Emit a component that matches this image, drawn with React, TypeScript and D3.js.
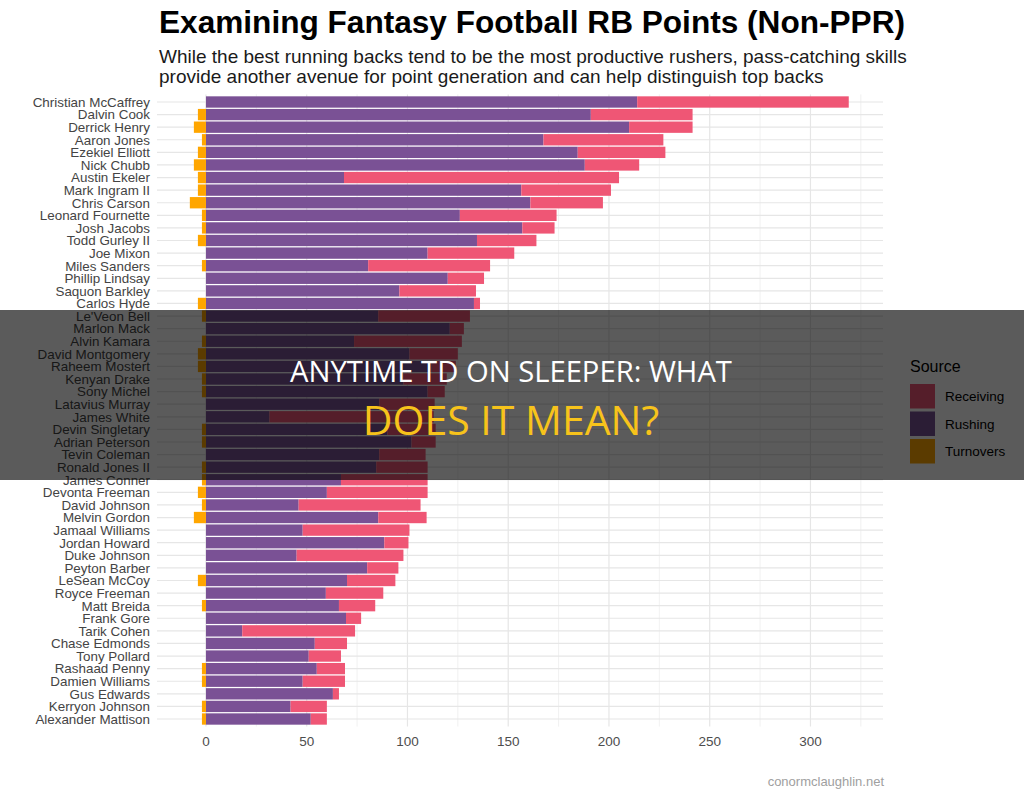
import React from "react";
import * as d3 from "d3";

// Running backs, ordered by net fantasy points (rushing + receiving + turnovers)
const players: string[] = [
  "Christian McCaffrey", "Dalvin Cook", "Derrick Henry", "Aaron Jones", "Ezekiel Elliott",
  "Nick Chubb", "Austin Ekeler", "Mark Ingram II", "Chris Carson", "Leonard Fournette",
  "Josh Jacobs", "Todd Gurley II", "Joe Mixon", "Miles Sanders", "Phillip Lindsay",
  "Saquon Barkley", "Carlos Hyde", "Le'Veon Bell", "Marlon Mack", "Alvin Kamara",
  "David Montgomery", "Raheem Mostert", "Kenyan Drake", "Sony Michel", "Latavius Murray",
  "James White", "Devin Singletary", "Adrian Peterson", "Tevin Coleman", "Ronald Jones II",
  "James Conner", "Devonta Freeman", "David Johnson", "Melvin Gordon", "Jamaal Williams",
  "Jordan Howard", "Duke Johnson", "Peyton Barber", "LeSean McCoy", "Royce Freeman",
  "Matt Breida", "Frank Gore", "Tarik Cohen", "Chase Edmonds", "Tony Pollard",
  "Rashaad Penny", "Damien Williams", "Gus Edwards", "Kerryon Johnson", "Alexander Mattison",
];

const rushing: number[] = [
  214, 191, 210, 167.5, 184.5, 188, 68.5, 156.5, 161, 126,
  157, 134.5, 110, 80.5, 120, 96, 133, 85.5, 121, 73.5,
  101, 112, 98, 110, 86, 31.5, 90, 102, 86, 84.5,
  67, 60, 46, 85.5, 48, 88.5, 45, 80, 70, 59.5,
  66, 69.5, 18, 54, 51, 55, 48, 63, 42, 52,
];

const receiving: number[] = [
  105, 50.5, 31.5, 59.5, 43.5, 27, 136.5, 44.5, 36, 48,
  16, 29.5, 43, 60.5, 18, 38, 3, 45.5, 7, 53.5,
  24, 12, 21.5, 8.5, 27.5, 81.5, 24, 12, 23, 25.5,
  43, 50, 60.5, 24, 53, 12, 53, 15.5, 24, 28.5,
  18, 7.5, 56, 16, 16, 14, 21, 3, 18, 8,
];

const turnovers: number[] = [
  0, -4, -6, -2, -4, -6, -4, -4, -8, -2,
  -2, -4, 0, -2, 0, 0, -4, -2, 0, -2,
  -4, -4, -2, -2, 0, 0, -2, -2, 0, -2,
  -2, -4, -2, -6, 0, 0, 0, 0, -4, 0,
  -2, 0, 0, 0, 0, -2, -2, 0, -2, -2,
];

const sources: string[] = ["Receiving", "Rushing", "Turnovers"];
const sourceColors: string[] = ["#ef5675", "#7a5195", "#ffa600"];
const xTicks: number[] = [0, 50, 100, 150, 200, 250, 300];
const xMinorTicks: number[] = [25, 75, 125, 175, 225, 275, 325];

const W = 1024;
const H = 796;
const FONT = "'Liberation Sans', Arial, Helvetica, sans-serif";

export default function App() {
  const x = d3.scaleLinear().domain([-24.3, 336]).range([157, 883]);
  const y = d3
    .scaleBand<string>()
    .domain(players)
    .range([95.7, 725.3])
    .paddingInner(0.1)
    .paddingOuter(0.05);
  const color = d3.scaleOrdinal<string, string>().domain(sources).range(sourceColors);

  const panelTop = 94.4;
  const panelBottom = 726.6;
  const bw = y.bandwidth();

  return (
    <div style={{ position: "absolute", left: 0, top: 0 }}>
      <svg width={W} height={H} style={{ display: "block", background: "#fff" }}>
        {/* Title block */}
        <text x={159} y={33} fontFamily={FONT} fontWeight="bold" fontSize={31.6} fill="#000">
          Examining Fantasy Football RB Points (Non-PPR)
        </text>
        <text x={159} y={63} fontFamily={FONT} fontSize={19} fill="#1a1a1a">
          While the best running backs tend to be the most productive rushers, pass-catching skills
        </text>
        <text x={159} y={83} fontFamily={FONT} fontSize={19} fill="#1a1a1a">
          provide another avenue for point generation and can help distinguish top backs
        </text>

        {/* Grid */}
        <g>
          {xMinorTicks.map((t) => (
            <line key={`mn${t}`} x1={x(t)} x2={x(t)} y1={panelTop} y2={panelBottom} stroke="#eeeeee" strokeWidth={0.8} />
          ))}
          {xTicks.map((t) => (
            <line key={`mj${t}`} x1={x(t)} x2={x(t)} y1={panelTop} y2={panelBottom} stroke="#e6e6e6" strokeWidth={1.2} />
          ))}
          {players.map((p) => (
            <line
              key={`h${p}`}
              x1={157}
              x2={883}
              y1={(y(p) as number) + bw / 2}
              y2={(y(p) as number) + bw / 2}
              stroke="#e6e6e6"
              strokeWidth={1.2}
            />
          ))}
        </g>

        {/* Stacked bars */}
        <g>
          {players.map((p, i) => {
            const top = y(p) as number;
            const rush = rushing[i];
            const rec = receiving[i];
            const to = turnovers[i];
            return (
              <g key={p}>
                <rect x={x(0)} y={top} width={x(rush) - x(0)} height={bw} fill={color("Rushing")} />
                <rect x={x(rush)} y={top} width={x(rush + rec) - x(rush)} height={bw} fill={color("Receiving")} />
                {to < 0 && (
                  <rect x={x(to)} y={top} width={x(0) - x(to)} height={bw} fill={color("Turnovers")} />
                )}
              </g>
            );
          })}
        </g>

        {/* Y axis labels */}
        <g>
          {players.map((p) => (
            <text
              key={`l${p}`}
              x={150}
              y={(y(p) as number) + bw / 2}
              dy="0.36em"
              textAnchor="end"
              fontFamily={FONT}
              fontSize={13.4}
              fill="#444"
            >
              {p}
            </text>
          ))}
        </g>

        {/* X axis labels */}
        <g>
          {xTicks.map((t) => (
            <text key={`xt${t}`} x={x(t)} y={746} textAnchor="middle" fontFamily={FONT} fontSize={13.5} fill="#4d4d4d">
              {t}
            </text>
          ))}
        </g>

        {/* Legend */}
        <g>
          <text x={910} y={372} fontFamily={FONT} fontSize={16} fill="#000">
            Source
          </text>
          {sources.map((s, i) => (
            <g key={s}>
              <rect x={910} y={384 + i * 27.5} width={25} height={24.5} fill={color(s)} />
              <text x={945} y={384 + i * 27.5 + 12.25} dy="0.36em" fontFamily={FONT} fontSize={13.5} fill="#000">
                {s}
              </text>
            </g>
          ))}
        </g>

        {/* Caption */}
        <text x={884} y={786} textAnchor="end" fontFamily={FONT} fontSize={13} fill="#a0a0a0">
          conormclaughlin.net
        </text>

        {/* Headline banner */}
        <rect x={0} y={310} width={W} height={170} fill="rgba(0,0,0,0.645)" />
        <text x={511} y={382} textAnchor="middle" fontFamily="'Open Sans', sans-serif" fontSize={29.2} fill="#ffffff">
          ANYTIME TD ON SLEEPER: WHAT
        </text>
        <text x={511} y={435} textAnchor="middle" fontFamily="'Open Sans', sans-serif" fontSize={41} fill="#f7c31b">
          DOES IT MEAN?
        </text>
      </svg>
    </div>
  );
}
